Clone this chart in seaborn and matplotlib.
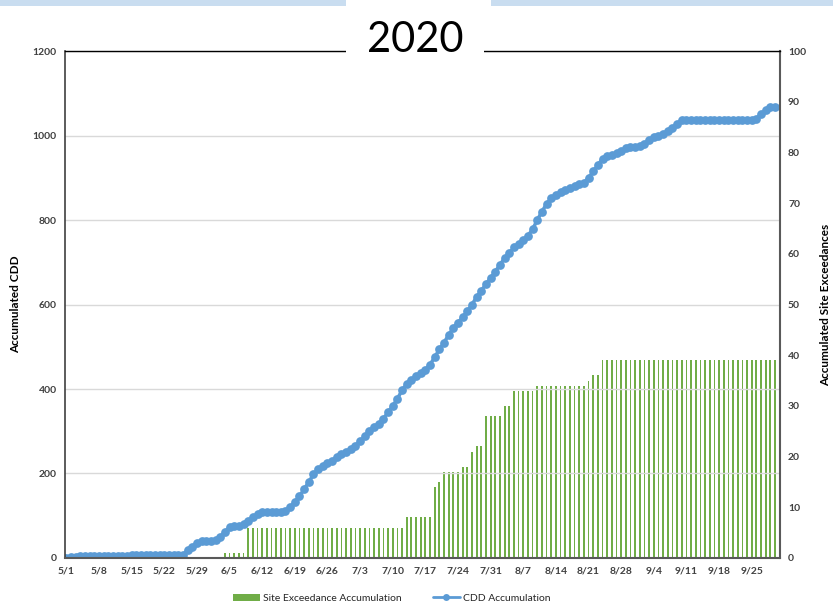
import numpy as np
import matplotlib
matplotlib.use("Agg")
import matplotlib.pyplot as plt
from matplotlib.patches import Patch, Rectangle
from matplotlib.lines import Line2D
import seaborn as sns

# daily values, 5/1 .. 9/30 (2020)
cdd_accum = [
    0, 3, 3, 4, 4, 4, 4, 4, 4, 4, 4, 4, 4, 4,
    6, 6, 6, 6, 6, 6, 6, 6, 6, 6, 6,
    8, 18, 27, 36, 41, 41, 41, 42, 50, 62, 73, 76, 76, 80, 88, 96, 104,
    108, 108, 108, 108, 109, 112,
    120, 133, 146, 163, 180, 198, 210, 218, 225, 230, 240, 245, 252, 258,
    266, 276, 288, 300, 310, 318, 330, 345, 360, 377, 397, 412, 422, 430,
    437, 445, 458, 475, 494, 510, 528, 545, 557, 570, 584, 600, 618, 633,
    648, 663, 678, 694, 710, 722, 735, 743, 752, 763, 778, 800, 820, 838,
    852, 860, 866, 870, 875, 880, 885, 888, 900, 915, 930, 945, 952, 955,
    958, 963, 970, 972, 974, 976, 980, 990, 996, 998, 1003, 1010, 1018,
    1028, 1036,
    1036, 1036, 1036, 1036, 1036, 1036, 1036, 1036, 1036, 1036, 1036, 1036,
    1036, 1036, 1036,
    1040, 1050, 1060, 1067, 1068,
]

site_exceed = [
    0, 0, 0, 0, 0, 0, 0, 0, 0, 0, 0, 0, 0, 0, 0, 0, 0,
    0, 0, 0, 0, 0, 0, 0, 0, 0, 0, 0, 0, 0, 0, 0, 0, 0,
    1, 1, 1, 1, 1,
    6, 6, 6, 6, 6, 6, 6, 6, 6, 6, 6, 6, 6, 6, 6, 6, 6,
    6, 6, 6, 6, 6, 6, 6, 6, 6, 6, 6, 6, 6, 6, 6, 6, 6,
    8, 8, 8, 8, 8, 8,
    14, 15, 17, 17, 17, 17, 18, 18, 21, 22, 22,
    28, 28, 28, 28, 30, 30, 33, 33, 33, 33, 33,
    34, 34, 34, 34, 34, 34, 34, 34, 34, 34, 34,
    35, 36, 36,
    39, 39, 39, 39, 39, 39, 39, 39, 39, 39, 39, 39, 39, 39, 39, 39, 39, 39, 39,
    39, 39, 39, 39, 39, 39, 39, 39, 39, 39, 39, 39, 39, 39, 39, 39, 39, 39, 39,
]

week_labels = ["5/1", "5/8", "5/15", "5/22", "5/29", "6/5", "6/12", "6/19",
               "6/26", "7/3", "7/10", "7/17", "7/24", "7/31", "8/7", "8/14",
               "8/21", "8/28", "9/4", "9/11", "9/18", "9/25"]

days = np.arange(len(cdd_accum))

BLUE = "#5B9BD5"
GREEN = "#70AD47"
TXT = "#404040"

sns.set_style("white")
plt.rcParams["font.family"] = ["Lato", "DejaVu Sans"]

fig = plt.figure(figsize=(8.33, 6.15), dpi=100)
ax = fig.add_axes([0.078, 0.0927, 0.858, 0.8243])
ax2 = ax.twinx()

# bars behind the line
ax2.set_zorder(ax.get_zorder() - 1)
ax.patch.set_visible(False)

sns.barplot(x=days, y=site_exceed, ax=ax2, native_scale=True, color=GREEN,
            saturation=1, width=0.38, linewidth=0)
sns.lineplot(x=days, y=cdd_accum, ax=ax, color=BLUE, linewidth=2.5,
             marker="o", markersize=6.3, markeredgewidth=0, markeredgecolor=BLUE)

ax.set_xlim(-0.3, 153)
ax.set_ylim(0, 1200)
ax2.set_ylim(0, 100)
ax.set_yticks(range(0, 1201, 200))
ax2.set_yticks(range(0, 101, 10))
ax.set_xticks(days[::7])
ax.set_xticklabels(week_labels)

ax.yaxis.grid(True, color="#D9D9D9", linewidth=1)
ax.xaxis.grid(False)
ax2.grid(False)

for a in (ax, ax2):
    a.tick_params(length=0, labelsize=7.5, colors=TXT, pad=6)
    for lab in a.get_xticklabels() + a.get_yticklabels():
        lab.set_fontweight("bold")
    for s in a.spines.values():
        s.set_visible(False)

ax.spines["left"].set_visible(True)
ax.spines["left"].set_color("#404040")
ax.spines["left"].set_linewidth(1.2)
ax.spines["top"].set_visible(True)
ax.spines["top"].set_color("black")
ax.spines["top"].set_linewidth(1.0)
ax.spines["bottom"].set_visible(True)
ax.spines["bottom"].set_color("#595959")
ax.spines["bottom"].set_linewidth(1.5)
ax.spines["right"].set_visible(True)
ax.spines["right"].set_color("#595959")
ax.spines["right"].set_linewidth(1.5)

ax.set_ylabel("Accumulated CDD", fontsize=8.5, fontweight="bold", color="black", labelpad=8)
ax2.set_ylabel("Accumulated Site Exceedances", fontsize=8.5, fontweight="bold",
               color="black", labelpad=10)
ax.set_xlabel("")

if ax.get_legend():
    ax.get_legend().remove()

fig.text(0.498, 0.935, "2020", fontsize=30, ha="center", va="center", color="black",
         family=["Lato", "DejaVu Sans"],
         bbox=dict(boxstyle="square,pad=0.5", facecolor="white", edgecolor="none"))

# slide band at the very top
fig.add_artist(Rectangle((0, 0.991), 0.421, 0.009, transform=fig.transFigure,
                         color="#C9DDF0", lw=0))
fig.add_artist(Rectangle((0.59, 0.991), 0.41, 0.009, transform=fig.transFigure,
                         color="#C9DDF0", lw=0))

handles = [Patch(facecolor=GREEN, edgecolor="none"),
           Line2D([0], [0], color=BLUE, lw=2, marker="o", markersize=5, markeredgewidth=0)]
fig.legend(handles, ["Site Exceedance Accumulation", "CDD Accumulation"],
           loc="center", bbox_to_anchor=(0.47, 0.027), ncol=2, frameon=False,
           fontsize=7.5, handlelength=2.6, columnspacing=3, handletextpad=0.3)

fig.savefig("out.png", dpi=100)
